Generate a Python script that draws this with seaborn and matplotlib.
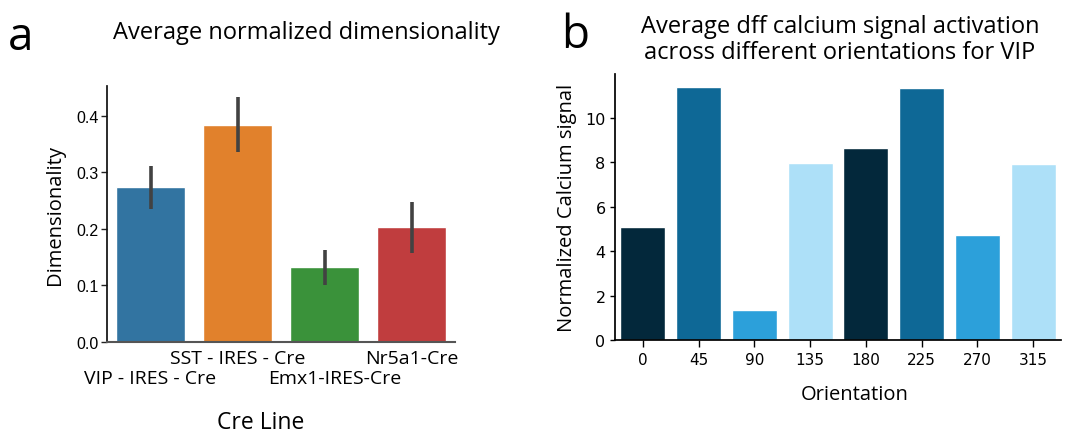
import matplotlib
matplotlib.use("Agg")
import matplotlib.pyplot as plt
import matplotlib.transforms as mtransforms
import seaborn as sns
import pandas as pd
from matplotlib import font_manager as fm

# ---- data ----
cre_lines = ["VIP - IRES - Cre", "SST - IRES - Cre", "Emx1-IRES-Cre", "Nr5a1-Cre"]
dim_mean = [0.274, 0.384, 0.133, 0.204]
dim_lo = [0.235, 0.336, 0.101, 0.157]
dim_hi = [0.312, 0.434, 0.163, 0.248]
cre_colors = ["#3274a1", "#e1812c", "#3a923a", "#c03d3e"]

orientations = ["0", "45", "90", "135", "180", "225", "270", "315"]
calcium = [5.09, 11.40, 1.35, 7.97, 8.65, 11.35, 4.73, 7.93]
orient_colors = ["#03283b", "#0e6896", "#2ca0da", "#ade0f8",
                 "#03283b", "#0e6896", "#2ca0da", "#ade0f8"]

sns.set_theme(style="ticks")
names = {f.name for f in fm.fontManager.ttflist}
main_font = "Open Sans" if "Open Sans" in names else "DejaVu Sans"
narrow_font = "Liberation Sans Narrow" if "Liberation Sans Narrow" in names else "Liberation Sans"
plt.rcParams["font.family"] = [main_font, "DejaVu Sans"]
for k in ["text.color", "axes.labelcolor", "xtick.color", "ytick.color"]:
    plt.rcParams[k] = "black"

W, H = 1069, 435
fig = plt.figure(figsize=(W / 100, H / 100), dpi=100)

def rect(l, r, t, b):
    return [l / W, (H - b) / H, (r - l) / W, (b - t) / H]

# ---- panel a ----
axa = fig.add_axes(rect(107, 455, 87, 343))
dfa = pd.DataFrame({"cre": cre_lines, "dim": dim_mean})
sns.barplot(data=dfa, x="cre", y="dim", hue="cre", palette=cre_colors,
            saturation=1, errorbar=None, width=0.8, legend=False, ax=axa)
axa.vlines(range(len(cre_lines)), dim_lo, dim_hi, colors="#424242", lw=2.6, zorder=3)
axa.set_xlim(-0.5, 3.5)
axa.set_ylim(0, 0.453)
axa.set_yticks([0.0, 0.1, 0.2, 0.3, 0.4])
axa.set_yticklabels(["0.0", "0.1", "0.2", "0.3", "0.4"], family=narrow_font, fontsize=11.5)
axa.set_xticks(range(len(cre_lines)))
axa.set_xticklabels(cre_lines, fontsize=14)
axa.tick_params(axis="x", length=0, pad=5)
axa.tick_params(axis="y", length=4, width=1, color="#222222", pad=2)
shifts = [(0, -20), (0, 0), (10, -20), (0, 0)]
for lab, (dx, dy) in zip(axa.get_xticklabels(), shifts):
    lab.set_transform(lab.get_transform() +
                      mtransforms.ScaledTranslation(dx / 100, dy / 100, fig.dpi_scale_trans))
axa.set_xlabel("Cre Line", fontsize=16.5)
axa.xaxis.set_label_coords((261 - 107) / 348, -(423 - 343) / 256)
axa.xaxis.label.set_va("center")
axa.set_ylabel("Dimensionality", fontsize=14.5, labelpad=8)
for s in ["top", "right"]:
    axa.spines[s].set_visible(False)
axa.spines["left"].set_color("#111111")
axa.spines["bottom"].set_color("#555555")
axa.spines["bottom"].set_linewidth(1.5)
fig.text(306 / W, 1 - 33 / H, "Average normalized dimensionality",
         ha="center", va="center", fontsize=17)
fig.text(21 / W, 1 - 38 / H, "a", ha="center", va="center", fontsize=33)

# ---- panel b ----
axb = fig.add_axes(rect(615, 1061, 75, 341))
dfb = pd.DataFrame({"orientation": orientations, "signal": calcium})
sns.barplot(data=dfb, x="orientation", y="signal", hue="orientation",
            palette=orient_colors, saturation=1, errorbar=None, width=0.81,
            legend=False, ax=axb)
axb.set_xlim(-0.5, 7.5)
axb.set_ylim(0, 11.98)
axb.set_yticks([0, 2, 4, 6, 8, 10])
axb.tick_params(axis="y", length=3.8, width=1, labelsize=11.5, pad=3, color="black")
axb.tick_params(axis="x", length=5, width=1, labelsize=11, pad=4, color="black")
for lab in axb.get_xticklabels() + axb.get_yticklabels():
    lab.set_family("DejaVu Sans")
axb.set_xlabel("Orientation", fontsize=14.5)
axb.xaxis.set_label_coords((855 - 615) / 446, -(395 - 341) / 266)
axb.xaxis.label.set_va("center")
axb.set_ylabel("Normalized Calcium signal", fontsize=14.5, labelpad=6)
for s in ["top", "right"]:
    axb.spines[s].set_visible(False)
for s in ["left", "bottom"]:
    axb.spines[s].set_color("black")
fig.text(840 / W, 1 - 40 / H,
         "Average dff calcium signal activation\nacross different orientations for VIP",
         ha="center", va="center", fontsize=17, linespacing=1.1)
fig.text(575 / W, 1 - 36 / H, "b", ha="center", va="center", fontsize=33)

fig.savefig("out.png", dpi=100)
